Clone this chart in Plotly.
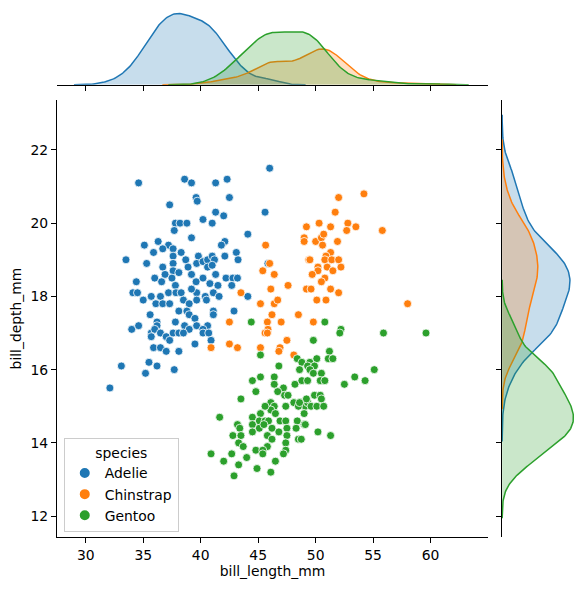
import numpy as np
import plotly.graph_objects as go

adelie_x = [34.6, 38.6, 39.2, 39.6, 39.7, 37.3, 40.2, 37.8, 38.2, 38.8, 37.7, 39.2, 36.3, 35.1, 37.2,
            36.7, 37.6, 35.9, 38.3, 37.6, 33.5, 39.8, 38.7, 35.3, 37.6, 39.65, 40.2, 36.7, 38.9, 37.6,
            38.1, 36.9, 39.2, 36.0, 36.6, 37.5, 40.2, 34.4, 39.6, 37.8, 34.1, 34.5,
            35.0, 35.7, 36.5, 36.1, 36.7, 37.3, 37.2, 37.85, 38.3, 38.5, 39.0, 39.65, 39.65, 40.4,
            40.5, 41.1, 41.6, 44.1, 35.6, 38.1, 38.8, 39.0, 39.5, 41.1, 41.1, 42.9, 34.0, 34.6,
            36.2, 36.2, 37.8, 38.6, 39.0, 39.65, 40.6, 40.2, 35.7, 36.0, 36.5, 37.0, 37.6, 38.1,
            38.5, 40.2, 40.7, 35.7, 37.3, 40.9, 39.5, 35.9, 36.5, 37.0, 38.1, 33.1, 35.5, 36.2,
            35.2, 37.7, 32.1,
            46.0, 41.3, 42.3, 42.5, 41.3, 42.0, 41.0, 45.6, 44.1, 42.1, 41.8, 43.1, 43.25, 42.1,
            40.6, 41.0, 41.2, 40.6, 41.0, 45.85, 42.2, 42.8, 43.2, 41.3, 40.8, 41.5, 42.7, 39.2]
adelie_y = [21.1, 21.2, 21.1, 20.7, 20.6, 20.5, 20.1, 20.0, 20.0, 20.0, 19.8, 19.6, 19.5, 19.4, 19.4,
            19.3, 19.3, 19.2, 19.2, 19.1, 19.0, 19.1, 19.0, 18.9, 18.9, 18.9, 18.95, 18.8, 18.8, 18.7,
            18.65, 18.6, 18.6, 18.5, 18.4, 18.5, 18.5, 18.4, 18.4, 18.3, 18.1, 18.1,
            17.9, 18.0, 18.0, 17.8, 17.8, 17.8, 18.1, 18.1, 18.1, 17.9, 17.8, 18.1, 17.9, 18.0,
            17.9, 18.1, 18.0, 18.0, 17.5, 17.6, 17.6, 17.5, 17.4, 17.6, 17.5, 17.6, 17.1, 17.2,
            17.3, 17.2, 17.3, 17.2, 17.1, 17.2, 17.2, 17.1, 17.0, 17.1, 17.0, 16.9, 17.0, 17.0,
            17.0, 17.0, 17.0, 16.9, 16.8, 16.8, 16.7, 16.6, 16.6, 16.5, 16.5, 16.1, 16.2, 16.1,
            15.9, 16.0, 15.5,
            21.5, 21.1, 21.2, 20.7, 20.3, 20.2, 20.0, 20.3, 19.7, 19.5, 19.4, 19.2, 19.0, 19.1,
            19.0, 19.1, 19.0, 18.8, 18.85, 18.9, 18.5, 18.5, 18.5, 18.6, 18.35, 18.3, 18.3, 18.2]

chinstrap_x = [43.5, 42.5, 42.5, 43.2, 40.9, 45.65, 49.2, 49.0, 49.0, 49.4, 46.0, 45.4, 46.4, 47.6,
               46.1, 49.2, 45.2, 46.4, 46.7, 48.5, 46.2, 45.8, 47.0, 45.85, 45.6, 45.8, 47.5, 45.2,
               46.9, 46.8, 48.1,
               52.0, 54.2, 51.7, 50.3, 51.3, 52.8, 53.5, 52.7, 55.8, 50.0, 50.5, 50.7, 50.6, 51.9,
               51.3, 50.9, 49.5, 50.8, 51.4, 52.0, 50.2, 51.0, 52.2, 50.2, 51.5, 49.7, 50.8, 50.5,
               49.6, 51.3, 52.0, 50.1, 50.9, 58.0, 49.8]
chinstrap_y = [18.1, 17.3, 16.7, 16.6, 16.6, 19.4, 19.9, 19.6, 19.5, 19.0, 18.9, 18.7, 18.6, 18.3,
               18.2, 18.2, 17.8, 17.8, 17.9, 17.5, 17.5, 17.3, 17.3, 17.1, 17.0, 17.0, 16.8, 16.6,
               16.6, 16.5, 16.4,
               20.7, 20.8, 20.3, 20.0, 19.9, 20.0, 19.9, 19.8, 19.8, 19.5, 19.6, 19.7, 19.4, 19.5,
               19.2, 19.1, 19.0, 19.0, 19.0, 19.0, 18.8, 18.8, 18.8, 18.7, 18.7, 18.6, 18.5, 18.4,
               18.2, 18.2, 18.1, 17.9, 17.9, 17.8, 17.3]

gentoo_x = [44.4, 44.5, 44.8, 43.5, 45.2, 48.4, 50.8, 52.2, 52.1, 55.9, 59.6, 49.8, 48.8, 49.5,
            50.1, 51.2, 51.1, 51.5, 49.3, 49.9, 48.6, 49.5, 49.8, 50.5, 55.1, 53.4, 54.3, 48.2,
            48.8, 49.3, 50.4, 50.8, 52.5,
            46.8, 45.2, 46.4, 46.4, 47.2, 46.7, 47.3, 47.6, 46.1, 46.4, 46.1, 46.5, 45.6, 47.4,
            48.1, 48.7, 49.1, 48.5, 49.0, 49.3, 45.2, 44.5, 45.1, 41.65, 45.6, 45.9, 46.9, 47.4,
            48.4, 49.0, 43.2, 43.4, 44.5, 45.1, 45.5, 46.2, 46.8, 47.5, 48.3, 44.5, 42.8, 43.5,
            45.8, 46.2, 47.5, 48.5, 43.3, 47.4, 43.7, 45.8, 44.8, 45.4, 45.4, 47.4, 47.2, 40.9,
            42.7, 44.0, 42.0, 46.5, 43.3, 44.9, 46.1, 42.9,
            49.9, 50.4, 49.2, 50.5, 48.6, 49.6, 50.1, 50.7, 49.1, 50.2, 51.3, 48.75]
gentoo_y = [17.3, 15.7, 15.4, 15.2, 16.4, 16.3, 17.3, 17.1, 17.0, 17.0, 17.0, 16.8, 16.2, 16.2,
            16.3, 16.5, 16.3, 16.3, 16.1, 16.1, 16.0, 16.0, 15.9, 15.9, 16.0, 15.8, 15.7, 15.6,
            15.7, 15.7, 15.7, 15.7, 15.6,
            16.1, 15.8, 15.8, 15.6, 15.5, 15.4, 15.3, 15.3, 15.1, 15.0, 14.9, 14.8, 15.0, 15.0,
            15.1, 15.1, 15.0, 15.0, 14.8, 15.1, 14.8, 14.7, 14.6, 14.7, 14.6, 14.6, 14.6, 14.6,
            14.6, 14.5, 14.5, 14.4, 14.5, 14.4, 14.5, 14.4, 14.3, 14.4, 14.4, 14.3, 14.2, 14.2,
            14.2, 14.1, 14.2, 14.1, 14.0, 14.0, 13.9, 13.9, 13.8, 13.8, 13.7, 13.8, 13.7, 13.7,
            13.7, 13.6, 13.5, 13.5, 13.4, 13.3, 13.2, 13.1,
            15.3, 15.3, 15.2, 15.2, 15.1, 15.0, 15.0, 15.0, 14.5, 14.3, 14.2, 14.1]

species = ["Adelie", "Chinstrap", "Gentoo"]
colors = ["#1f77b4", "#ff7f0e", "#2ca02c"]
fills = ["rgba(31,119,180,0.25)", "rgba(255,127,14,0.25)", "rgba(44,160,44,0.25)"]

x_ticks = [30, 35, 40, 45, 50, 55, 60]
y_ticks = [12, 14, 16, 18, 20, 22]

groups = [(adelie_x, adelie_y), (chinstrap_x, chinstrap_y), (gentoo_x, gentoo_y)]
n_total = sum(len(g[0]) for g in groups)


def kde(vals, n_total):
    # gaussian kde, scott bandwidth, cut=3, scaled by group share (common_norm)
    v = np.asarray(vals, dtype=float)
    bw = v.std(ddof=1) * len(v) ** (-1 / 5)
    grid = np.linspace(v.min() - 3 * bw, v.max() + 3 * bw, 200)
    z = (grid[:, None] - v[None, :]) / bw
    dens = np.exp(-0.5 * z ** 2).sum(axis=1) / (len(v) * bw * np.sqrt(2 * np.pi))
    return grid, dens * len(v) / n_total


fig = go.Figure()
font = dict(family="DejaVu Sans", size=13.9, color="black")

top_max = 0
right_max = 0
for name, col, fc, (gx, gy) in zip(species, colors, fills, groups):
    fig.add_trace(go.Scatter(x=gx, y=gy, mode="markers", name=name,
                             marker=dict(color=col, size=8, line=dict(color="white", width=0.8)),
                             xaxis="x", yaxis="y"))
    kx, dx = kde(gx, n_total)
    top_max = max(top_max, dx.max())
    fig.add_trace(go.Scatter(x=kx, y=dx, mode="lines", fill="tozeroy", fillcolor=fc,
                             line=dict(color=col, width=1.5), showlegend=False,
                             hoverinfo="skip", xaxis="x2", yaxis="y2"))
    ky, dy = kde(gy, n_total)
    right_max = max(right_max, dy.max())
    fig.add_trace(go.Scatter(x=dy, y=ky, mode="lines", fill="tozerox", fillcolor=fc,
                             line=dict(color=col, width=1.5), showlegend=False,
                             hoverinfo="skip", xaxis="x3", yaxis="y3"))

axis_common = dict(showgrid=False, zeroline=False, showline=True, linecolor="black",
                   linewidth=1.1, ticks="outside", ticklen=5, tickwidth=1.1, tickcolor="black",
                   automargin=False, tickfont=font)

# the page body adds ~8px offset, so margins are shifted up/left to compensate
fig.update_layout(
    width=585, height=590,
    margin=dict(l=49, r=16, t=2, b=61, autoexpand=False),
    paper_bgcolor="white", plot_bgcolor="white",
    font=font,
    xaxis=dict(domain=[0, 0.829], range=[27.5, 65.0], tickvals=x_ticks,
               title=dict(text="bill_length_mm", standoff=4, font=font), **axis_common),
    yaxis=dict(domain=[0, 0.829], range=[11.43, 23.36], tickvals=y_ticks,
               title=dict(text="bill_depth_mm", standoff=10, font=font), **axis_common),
    xaxis2=dict(domain=[0, 0.829], matches="x", anchor="y2", tickvals=x_ticks,
                showticklabels=False, **axis_common),
    yaxis2=dict(domain=[0.858, 1], range=[0, top_max * 1.05], anchor="x2", visible=False),
    xaxis3=dict(domain=[0.856, 1], range=[0, right_max * 1.05], anchor="y3", visible=False),
    yaxis3=dict(domain=[0, 0.829], matches="y", anchor="x3", tickvals=y_ticks,
                showticklabels=False, **axis_common),
    legend=dict(x=0.013, y=0.187, xanchor="left", yanchor="top",
                title=dict(text="species", side="top center", font=font),
                bgcolor="rgba(255,255,255,0.8)", bordercolor="#cccccc", borderwidth=1,
                font=font, itemsizing="constant"),
)

fig.write_html("out.html")
